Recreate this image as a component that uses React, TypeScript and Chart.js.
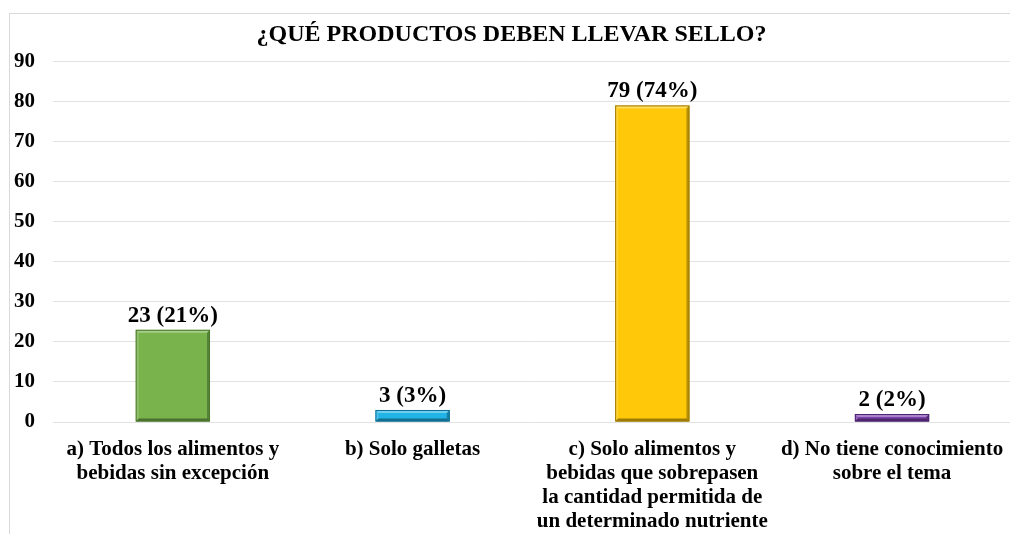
import React, { useEffect, useRef } from "react";
import { Chart, registerables } from "chart.js";

Chart.register(...registerables);

const TITLE = "¿QUÉ PRODUCTOS DEBEN LLEVAR SELLO?";
const categories: string[][] = [
  ["a) Todos los alimentos y", "bebidas sin excepción"],
  ["b) Solo galletas"],
  ["c) Solo alimentos y", "bebidas que sobrepasen", "la cantidad permitida de", "un determinado nutriente"],
  ["d) No tiene conocimiento", "sobre el tema"],
];
const counts = [23, 3, 79, 2];
const percents = [21, 3, 74, 2];
const yMin = 0;
const yMax = 90;
const yStep = 10;

const barColors = ["#79b34c", "#22b4e6", "#ffc808", "#7d40ae"];
const barEdge = ["#4b7a2c", "#0d6f93", "#9c7a00", "#4c2370"];

const FONT = "'Liberation Serif', 'Times New Roman', serif";

const bevelPlugin = {
  id: "bevel",
  afterDatasetsDraw(chart: any) {
    const ctx = chart.ctx;
    const meta = chart.getDatasetMeta(0);
    meta.data.forEach((bar: any, i: number) => {
      const { x, y, base, width } = bar.getProps(["x", "y", "base", "width"], true);
      const l = x - width / 2;
      const r = x + width / 2;
      const t = Math.min(y, base);
      const b = Math.max(y, base);
      const h = b - t;
      const bv = Math.min(3, h / 2.5);
      ctx.save();
      ctx.fillStyle = "rgba(255,255,255,0.35)";
      ctx.beginPath();
      ctx.moveTo(l, t); ctx.lineTo(r, t); ctx.lineTo(r - bv, t + bv); ctx.lineTo(l + bv, t + bv); ctx.closePath(); ctx.fill();
      ctx.fillStyle = "rgba(255,255,255,0.18)";
      ctx.beginPath();
      ctx.moveTo(l, t); ctx.lineTo(l + bv, t + bv); ctx.lineTo(l + bv, b - bv); ctx.lineTo(l, b); ctx.closePath(); ctx.fill();
      ctx.fillStyle = "rgba(0,0,0,0.28)";
      ctx.beginPath();
      ctx.moveTo(r, t); ctx.lineTo(r, b); ctx.lineTo(r - bv, b - bv); ctx.lineTo(r - bv, t + bv); ctx.closePath(); ctx.fill();
      ctx.fillStyle = "rgba(0,0,0,0.38)";
      ctx.beginPath();
      ctx.moveTo(l, b); ctx.lineTo(r, b); ctx.lineTo(r - bv, b - bv); ctx.lineTo(l + bv, b - bv); ctx.closePath(); ctx.fill();
      ctx.strokeStyle = barEdge[i];
      ctx.lineWidth = 1;
      ctx.strokeRect(l + 0.5, t + 0.5, width - 1, h - 1);
      ctx.restore();
    });
  },
};

const labelPlugin = {
  id: "valueLabels",
  afterDatasetsDraw(chart: any) {
    const ctx = chart.ctx;
    const meta = chart.getDatasetMeta(0);
    ctx.save();
    ctx.font = `bold 23px ${FONT}`;
    ctx.fillStyle = "#000";
    ctx.textAlign = "center";
    ctx.textBaseline = "middle";
    meta.data.forEach((bar: any, i: number) => {
      ctx.fillText(`${counts[i]} (${percents[i]}%)`, bar.x, bar.y - 14);
    });
    ctx.restore();
  },
};

export default function App() {
  const ref = useRef<HTMLCanvasElement>(null);
  useEffect(() => {
    if (!ref.current) return;
    const chart = new Chart(ref.current, {
      type: "bar",
      data: {
        labels: categories,
        datasets: [
          {
            data: counts,
            backgroundColor: barColors,
            borderWidth: 0,
            barPercentage: 0.31,
            categoryPercentage: 1,
          },
        ],
      },
      options: {
        responsive: false,
        animation: false,
        devicePixelRatio: 1,
        layout: { padding: { top: 0, left: 0, right: 7, bottom: 0 } },
        plugins: {
          legend: { display: false },
          tooltip: { enabled: false },
          title: {
            display: true,
            text: TITLE,
            color: "#000",
            font: { family: FONT, size: 24, weight: "bold", lineHeight: 1.2 },
            padding: { top: 6, bottom: 12.5 },
          },
        },
        scales: {
          x: {
            grid: { display: false, drawTicks: false },
            border: { display: false },
            ticks: {
              color: "#000",
              padding: 16,
              maxRotation: 0,
              autoSkip: false,
              font: { family: FONT, size: 21, weight: "bold", lineHeight: 24 / 21 },
            },
            afterFit(scale: any) {
              scale.height = 122;
            },
          },
          y: {
            min: yMin,
            max: yMax,
            grid: { color: "#e2e2e2", drawTicks: false, lineWidth: 1 },
            border: { display: false },
            ticks: {
              stepSize: yStep,
              color: "#000",
              padding: 18,
              font: { family: FONT, size: 21, weight: "bold" },
            },
            afterFit(scale: any) {
              scale.width = 43;
            },
          },
        },
      },
      plugins: [bevelPlugin, labelPlugin],
    });
    return () => chart.destroy();
  }, []);

  return (
    <div
      style={{
        position: "absolute",
        left: 9,
        top: 13,
        width: 1001,
        height: 521,
        overflow: "hidden",
        borderLeft: "1px solid #d9d9d9",
        borderTop: "1px solid #d9d9d9",
        background: "#fff",
      }}
    >
      <canvas ref={ref} width={1010} height={530} style={{ display: "block" }} />
    </div>
  );
}
